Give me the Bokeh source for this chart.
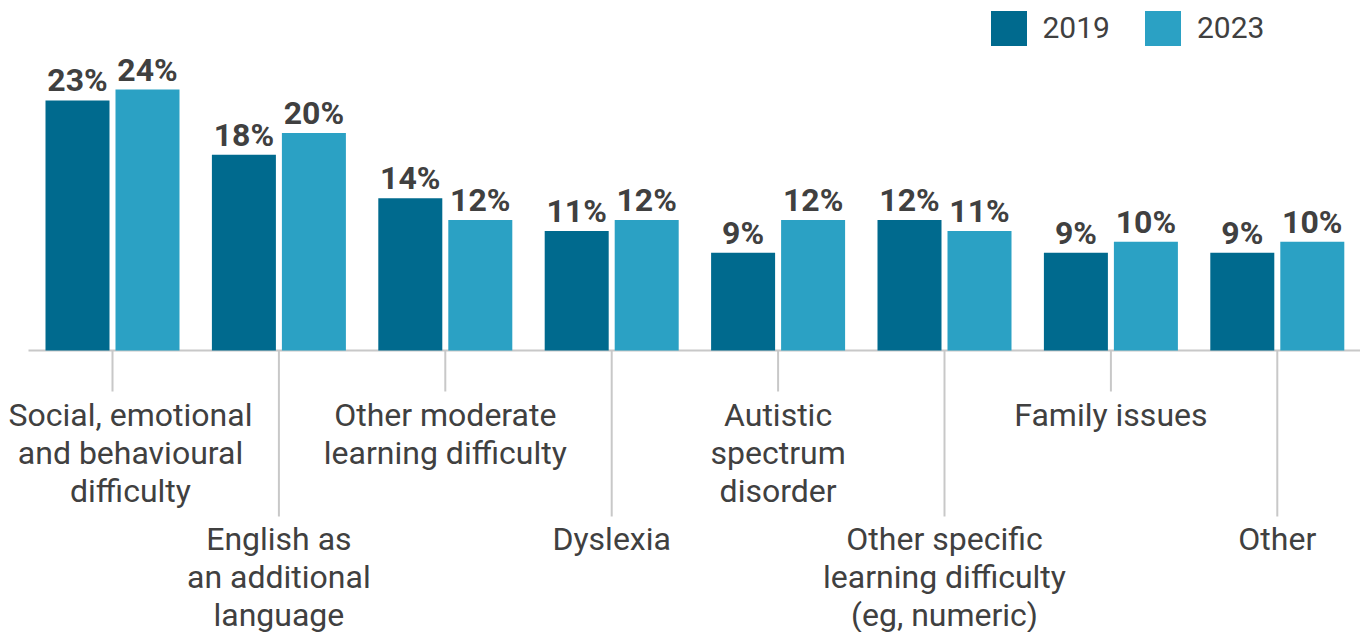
from bokeh.plotting import figure
from bokeh.models import ColumnDataSource, Range1d, Legend, LegendItem
from bokeh.transform import dodge
from bokeh.core.properties import value
from bokeh.embed import file_html
from bokeh.resources import INLINE

# ---- data ----
categories = [
    "Social, emotional\nand behavioural\ndifficulty",
    "English as\nan additional\nlanguage",
    "Other moderate\nlearning difficulty",
    "Dyslexia",
    "Autistic\nspectrum\ndisorder",
    "Other specific\nlearning difficulty\n(eg, numeric)",
    "Family issues",
    "Other",
]
years = ["2019", "2023"]
values_2019 = [23, 18, 14, 11, 9, 12, 9, 9]
values_2023 = [24, 20, 12, 12, 12, 11, 10, 10]

# ---- style ----
C2019 = "#006a8e"
C2023 = "#2ba1c4"
TXT = "#404040"
GRID = "#c8c8c8"
FONT = "Roboto"

W, H = 1360, 632
PX_X = 166.4           # px per category
FIRST = 112            # px of first category centre
BASE = 350             # figure y of the baseline
PX_Y = 10.87           # px per percentage point
TXT_SHIFT = 11         # compensation for svg text baseline

x_start = -FIRST / PX_X
x_end = x_start + W / PX_X
y_top = BASE / PX_Y
y_bot = -(H - BASE) / PX_Y

def py(fig_y):
    """figure pixel y -> data y"""
    return (BASE - fig_y) / PX_Y

idx = list(range(len(categories)))
lift = (9 + TXT_SHIFT) / PX_Y
src = ColumnDataSource(dict(
    x=idx, v19=values_2019, v23=values_2023,
    l19=[f"{v}%" for v in values_2019],
    l23=[f"{v}%" for v in values_2023],
    y19=[v + lift for v in values_2019],
    y23=[v + lift for v in values_2023],
))

p = figure(width=W, height=H, output_backend="svg", toolbar_location=None,
           x_range=Range1d(x_start, x_end), y_range=Range1d(y_bot, y_top),
           x_axis_location=None, y_axis_location=None,
           min_border_left=0, min_border_right=0,
           min_border_top=0, min_border_bottom=0,
           outline_line_color=None, background_fill_color="white",
           border_fill_color="white")
p.grid.visible = False

# baseline (starts at x = 28px)
p.segment(x0=[(28 - FIRST) / PX_X], y0=[0], x1=[x_end], y1=[0],
          line_color=GRID, line_width=2)

OFF = 35 / PX_X
BW = 64 / PX_X
r19 = p.vbar(x=dodge("x", -OFF, range=p.x_range), top="v19", bottom=0, width=BW,
             source=src, fill_color=C2019, line_color=None)
r23 = p.vbar(x=dodge("x", OFF, range=p.x_range), top="v23", bottom=0, width=BW,
             source=src, fill_color=C2023, line_color=None)

for col_x, col_y, col_t in ((-OFF, "y19", "l19"), (OFF, "y23", "l23")):
    p.text(x=dodge("x", col_x, range=p.x_range), y=col_y, text=col_t, source=src,
           text_align="center", text_baseline="alphabetic",
           text_font=value(FONT), text_font_style="bold",
           text_font_size="32px", text_color=TXT)

# ticks and category labels (alternating short / long)
tx0, tx1, ty0, ty1 = [], [], [], []
lx, ly, lt = [], [], []
short_base = [425, 463, 501]
long_base = [549, 587, 625]
for i, cat in enumerate(categories):
    long = (i % 2 == 1)
    tx0.append(i); tx1.append(i)
    ty0.append(0); ty1.append(py(516 if long else 391))
    bases = long_base if long else short_base
    cx = i + (18 / PX_X if i == 0 else 0)
    for j, line in enumerate(cat.split("\n")):
        lx.append(cx); ly.append(py(bases[j] - TXT_SHIFT)); lt.append(line)

p.segment(x0=tx0, y0=ty0, x1=tx1, y1=ty1, line_color=GRID, line_width=2)
p.text(x=lx, y=ly, text=lt, text_align="center", text_baseline="alphabetic",
       text_font=value(FONT), text_font_size="32px", text_color=TXT)

legend = Legend(items=[LegendItem(label=years[0], renderers=[r19]),
                       LegendItem(label=years[1], renderers=[r23])],
                orientation="horizontal", location=(985.5, H - 44 - 5.6),
                glyph_width=45, glyph_height=44, label_height=44,
                label_standoff=12, spacing=30, padding=0, margin=0,
                border_line_color=None, background_fill_alpha=0,
                label_text_font=FONT, label_text_font_size="30px",
                label_text_color=TXT)
p.add_layout(legend, "center")

open("out.html", "w").write(file_html(p, INLINE))
